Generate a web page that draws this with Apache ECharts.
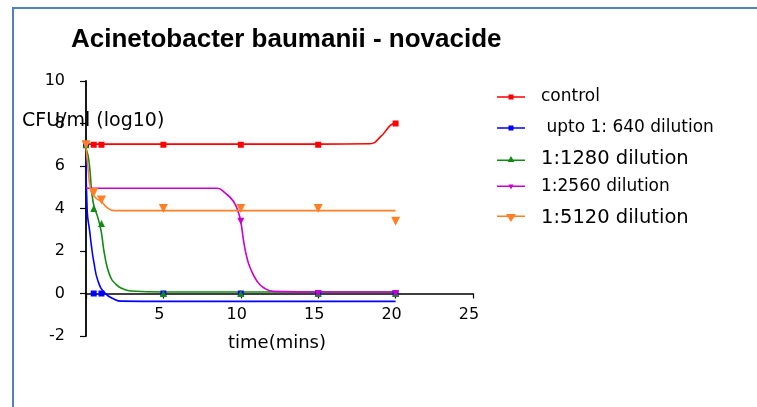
<!DOCTYPE html>
<html><head><meta charset="utf-8">
<script src="https://cdn.jsdelivr.net/npm/echarts@6/dist/echarts.min.js"></script>
<style>html,body{margin:0;padding:0;background:#fff}#c{width:757px;height:407px}</style>
</head><body><div id="c"></div>
<script>
// ---- data ----
const timeMins = [0, 0.5, 1, 5, 10, 15, 20];
const controlVals = [7, 7, 7, 7, 7, 7, 8];
const upto640Vals = [7, 0, 0, 0, 0, 0, 0];
const d1280Vals = [7, 4, 3.3, 0, 0, 0, 0];
const d2560Vals = [7, null, null, null, 3.4, 0, 0];
const d5120Vals = [7, 4.75, 4.4, 4, 4, 4, 3.4];

// fitted curves
const controlFitX = [0, 5, 10, 15, 18.34, 19.03, 19.68, 20];
const controlFitY = [7.03, 7.03, 7.03, 7.03, 7.05, 7.38, 7.92, 8.03];
const upto640FitX = [0, 0.08, 0.24, 0.34, 0.5, 0.78, 1.21, 1.86, 2.28, 5, 10, 15, 20];
const upto640FitY = [6.5, 3.86, 2.92, 2.3, 1.51, 0.58, 0.03, -0.28, -0.36, -0.37, -0.37, -0.37, -0.37];
const d1280FitX = [0, 0.13, 0.24, 0.45, 0.77, 0.98, 1.2, 1.52, 1.95, 2.49, 2.9, 5, 10, 15, 20];
const d1280FitY = [6.8, 6.5, 5.9, 4.33, 3.56, 2.92, 1.83, 0.89, 0.42, 0.19, 0.12, 0.07, 0.07, 0.07, 0.07];
const d2560FitX = [0, 5, 8.46, 9.0, 9.53, 9.86, 10.0, 10.18, 10.4, 10.61, 11.05, 11.48, 12.12, 15, 20];
const d2560FitY = [4.95, 4.95, 4.95, 4.72, 4.33, 3.78, 3.39, 2.48, 1.67, 1.2, 0.58, 0.27, 0.1, 0.07, 0.07];
const d5120FitX = [0, 0.13, 0.34, 0.66, 0.98, 1.41, 1.84, 5, 10, 15, 20];
const d5120FitY = [7.0, 5.9, 4.8, 4.48, 4.33, 4.02, 3.9, 3.9, 3.9, 3.9, 3.9];

const seriesNames = ['control', ' upto 1: 640 dilution', '1:1280 dilution', '1:2560 dilution', '1:5120 dilution'];
const xTicks = [0, 5, 10, 15, 20, 25];
const yTicks = [-2, 0, 2, 4, 6, 8, 10];
const titleText = 'Acinetobacter baumanii - novacide';
const yName = 'CFU/ml (log10)';
const xName = 'time(mins)';

// ---- styling ----
const colors = ['#ff0000', '#0000ff', '#138a13', '#cc00cc', '#ff7f27'];
const FONT = 'DejaVu Sans';
const pair = (xs, ys) => xs.map((x, i) => [x, ys[i]]);

const valueSets = [controlVals, upto640Vals, d1280Vals, d2560Vals, d5120Vals];
const fitSets = [[controlFitX, controlFitY], [upto640FitX, upto640FitY], [d1280FitX, d1280FitY], [d2560FitX, d2560FitY], [d5120FitX, d5120FitY]];
const symbols = [
  {symbol: 'rect', size: 6, rotate: 0},
  {symbol: 'rect', size: 6, rotate: 0},
  {symbol: 'triangle', size: 7, rotate: 0},
  {symbol: 'triangle', size: 7, rotate: 180},
  {symbol: 'triangle', size: 9, rotate: 180}
];
const legendIcons = [
  {icon: 'path://M11.5,0h5v5h-5z M0,1.75h28v1.5H0z', h: 5},
  {icon: 'path://M11.5,0h5v5h-5z M0,1.75h28v1.5H0z', h: 5},
  {icon: 'path://M14,0L17.5,6L10.5,6z M0,3.5h28v1.5H0z', h: 6},
  {icon: 'path://M11.5,0h5L14,5z M0,1h28v1.5H0z', h: 5},
  {icon: 'path://M9,0h10L14,8z M0,1.5h28v1.5H0z', h: 8}
];
const legendCenters = [97, 128, 159, 187, 218];
const legendFont = [17, 17, 19.5, 17, 19.5];

const series = [];
fitSets.forEach((f, i) => {
  series.push({
    name: 'fit' + i, type: 'line', data: pair(f[0], f[1]),
    showSymbol: false, smooth: 0.5, silent: true, z: 2,
    lineStyle: {color: colors[i], width: 1.6}, itemStyle: {color: colors[i]}
  });
});
valueSets.forEach((v, i) => {
  series.push({
    name: seriesNames[i], type: 'scatter', z: 3,
    data: timeMins.map((t, k) => v[k] == null ? null : [t, v[k]]).filter(d => d),
    symbol: symbols[i].symbol, symbolSize: symbols[i].size, symbolRotate: symbols[i].rotate,
    itemStyle: {color: colors[i], opacity: 1}
  });
});

const legends = seriesNames.map((n, i) => ({
  data: [n], left: 497, top: legendCenters[i] - 10, padding: 0, orient: 'vertical',
  icon: legendIcons[i].icon, itemWidth: 28, itemHeight: legendIcons[i].h,
  selectedMode: false,
  textStyle: {fontFamily: FONT, fontSize: legendFont[i], color: '#000', lineHeight: 20, padding: [0, 0, 0, 11]}
}));

const chart = echarts.init(document.getElementById('c'), null, {renderer: 'canvas'});
chart.setOption({
  animation: false,
  backgroundColor: '#fff',
  grid: {left: 86, top: 81, width: 387, height: 255, containLabel: false},
  legend: legends,
  xAxis: {
    type: 'value', min: xTicks[0], max: xTicks[xTicks.length - 1], interval: xTicks[1] - xTicks[0],
    splitLine: {show: false},
    axisLine: {onZero: true, lineStyle: {color: '#000', width: 1.5}},
    axisTick: {show: true, length: 5, lineStyle: {color: '#000', width: 1.2}},
    axisLabel: {fontFamily: FONT, fontSize: 16, color: '#000', margin: -29, padding: [0, 8, 0, 0],
      formatter: v => v === 0 ? '' : String(v)}
  },
  yAxis: {
    type: 'value', min: yTicks[0], max: yTicks[yTicks.length - 1], interval: yTicks[1] - yTicks[0],
    splitLine: {show: false},
    axisLine: {onZero: false, lineStyle: {color: '#000', width: 1.8}},
    axisTick: {show: true, length: 6, lineStyle: {color: '#000', width: 1.2}},
    axisLabel: {fontFamily: FONT, fontSize: 16, color: '#000', margin: 21}
  },
  graphic: [
    {type: 'line', shape: {x1: 13, y1: 8, x2: 757, y2: 8}, style: {stroke: '#4f81bd', lineWidth: 2}},
    {type: 'line', shape: {x1: 13, y1: 7, x2: 13, y2: 407}, style: {stroke: '#4f81bd', lineWidth: 2}},
    {type: 'text', left: 71, top: 27, z: 10,
      style: {text: titleText, font: 'bold 26px "Liberation Sans", Arial', fill: '#000'}},
    {type: 'text', left: 22, top: 112, z: 10,
      style: {text: yName, font: '19px "DejaVu Sans"', fill: '#000'}},
    {type: 'text', x: 277, y: 343, z: 10,
      style: {text: xName, font: '18px "DejaVu Sans"', fill: '#000', textAlign: 'center', textVerticalAlign: 'middle'}}
  ],
  series: series
});
</script></body></html>
